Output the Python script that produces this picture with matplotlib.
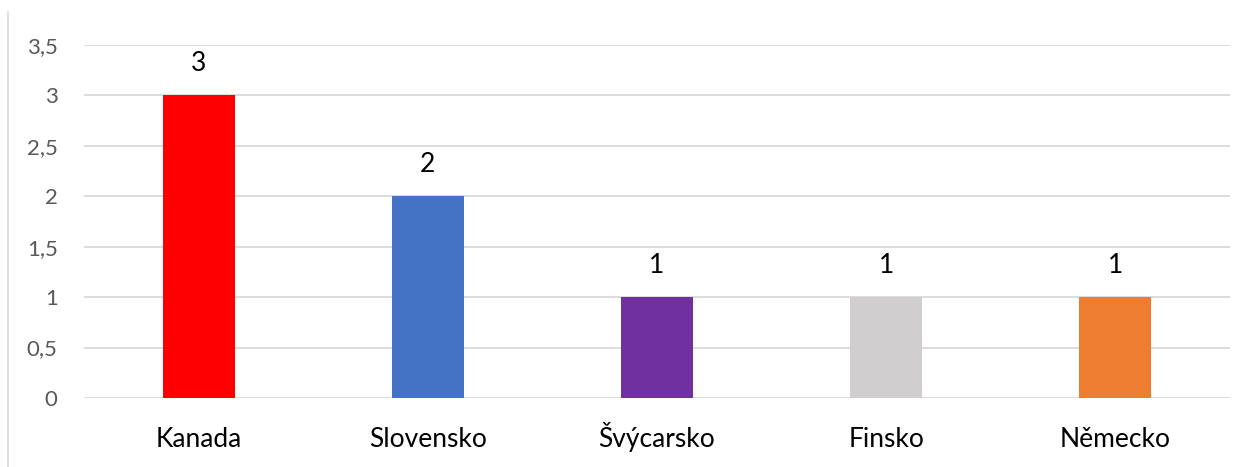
import matplotlib.pyplot as plt
from matplotlib.lines import Line2D
from matplotlib.ticker import FuncFormatter

countries = ["Kanada", "Slovensko", "Švýcarsko", "Finsko", "Německo"]
counts = [3, 2, 1, 1, 1]
bar_colors = ["#FF0000", "#4472C4", "#7030A0", "#D0CECE", "#ED7D31"]
y_ticks = [0, 0.5, 1, 1.5, 2, 2.5, 3, 3.5]

plt.rcParams['font.family'] = ['Lato', 'DejaVu Sans']

fig = plt.figure(figsize=(12.48, 4.67), dpi=100)
ax = fig.add_axes([84 / 1248, 69 / 467, 1146 / 1248, 353 / 467])

x = range(len(countries))
ax.bar(x, counts, width=0.315, color=bar_colors, zorder=3)
for xi, v in zip(x, counts):
    ax.text(xi, v + 0.19, str(v), ha='center', va='bottom', fontsize=19, color='black')

ax.set_xlim(-0.5, len(countries) - 0.5)
ax.set_ylim(0, 3.5)
ax.set_yticks(y_ticks)
ax.yaxis.set_major_formatter(FuncFormatter(lambda v, p: f"{v:g}".replace('.', ',')))
ax.set_xticks(list(x))
ax.set_xticklabels(countries, fontsize=19)
for lab in ax.get_xticklabels():
    lab.set_va('baseline')
ax.tick_params(axis='y', length=0, pad=19, labelsize=16, labelcolor='#595959')
ax.tick_params(axis='x', length=0, pad=35, labelcolor='black')
ax.grid(axis='y', color='#D9D9D9', linewidth=1.3, zorder=0)
for s in ax.spines.values():
    s.set_visible(False)

fig.add_artist(Line2D([8 / 1248, 8 / 1248], [0, 455 / 467], color='#D9D9D9', linewidth=1.2))

fig.savefig('out.png', dpi=100)
